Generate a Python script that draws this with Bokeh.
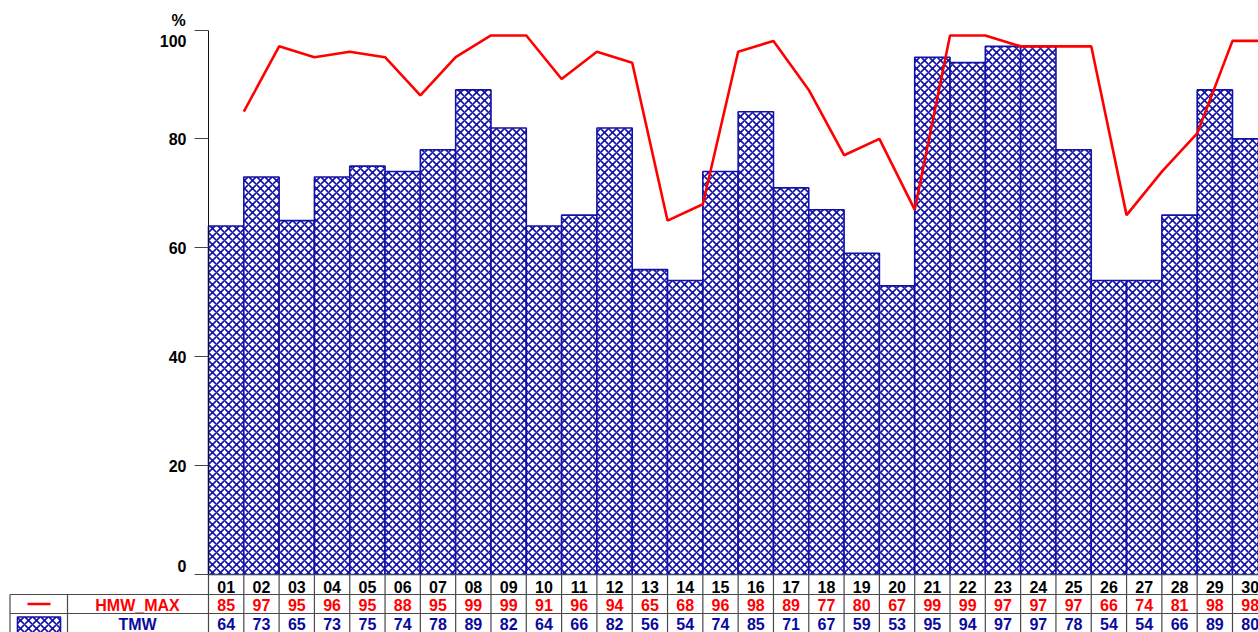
import numpy as np
from bokeh.plotting import figure
from bokeh.models import Range1d, ColumnDataSource, FixedTicker, LinearAxis
from bokeh.embed import file_html
from bokeh.resources import INLINE
from bokeh.core.properties import value
from bokeh.transform import dodge

# ---------------- data ----------------
days = ["01", "02", "03", "04", "05", "06", "07", "08", "09", "10",
        "11", "12", "13", "14", "15", "16", "17", "18", "19", "20",
        "21", "22", "23", "24", "25", "26", "27", "28", "29", "30"]
hmw_max = [85, 97, 95, 96, 95, 88, 95, 99, 99, 91, 96, 94, 65, 68, 96,
           98, 89, 77, 80, 67, 99, 99, 97, 97, 97, 66, 74, 81, 98, 98]
tmw = [64, 73, 65, 73, 75, 74, 78, 89, 82, 64, 66, 82, 56, 54, 74,
       85, 71, 67, 59, 53, 95, 94, 97, 97, 78, 54, 54, 66, 89, 80]
y_ticks = [0, 20, 40, 60, 80, 100]
series_names = ["HMW_MAX", "TMW"]
unit_label = "%"

# ---------------- style / layout ----------------
BLUE = "#1212A6"
TXT_BLUE = "#0A0A9E"
RED = "#FF0000"
GRID = "#4a4a4a"
FONT = value("Liberation Sans")
FS = "16px"
W, H = 1258, 632
X0_PX = 208.0     # page x of the axis / first column's left edge
Y0_PX = 574.0     # page y of value 0
BAR_PX = 35.31    # px per day
UNIT_PX = 5.445   # px per percent


def px2x(px):
    return 0.5 + (px - X0_PX) / BAR_PX


def px2y(py):
    return (Y0_PX - py) / UNIT_PX


x = np.arange(1, len(days) + 1)
src = ColumnDataSource(dict(x=x, day=days, hmw=hmw_max, tmw=tmw))

p = figure(width=W, height=H, x_range=Range1d(px2x(0), px2x(W)),
           y_range=Range1d(px2y(H), px2y(0)), output_backend="svg",
           toolbar_location=None, x_axis_location=None, y_axis_location=None,
           min_border=0)
p.outline_line_color = None
p.grid.visible = False

# y axis at the left edge of the first column
ya = LinearAxis(fixed_location=0.5, bounds=(y_ticks[0], y_ticks[-1]),
                ticker=FixedTicker(ticks=y_ticks))
ya.minor_tick_line_color = None
ya.major_tick_in = 0
ya.major_tick_out = 14
ya.major_tick_line_color = "#444444"
ya.axis_line_color = "#111111"
ya.major_label_standoff = 8
ya.major_label_text_font = "Liberation Sans"
ya.major_label_text_font_style = "bold"
ya.major_label_text_font_size = FS
ya.major_label_text_color = "black"
ya.major_label_overrides = {y_ticks[0]: "", y_ticks[-1]: ""}
p.add_layout(ya, "left")

lab = dict(text_font=FONT, text_font_style="bold", text_font_size=FS,
           text_color="black", text_baseline="middle")
p.text(x=[0.5], y=[y_ticks[0]], text=[str(y_ticks[0])], x_offset=-22, y_offset=-9,
       text_align="right", **lab)
p.text(x=[0.5], y=[y_ticks[-1]], text=[str(y_ticks[-1])], x_offset=-22, y_offset=10.5,
       text_align="right", **lab)
p.text(x=[0.5], y=[y_ticks[-1]], text=[unit_label], x_offset=-30, y_offset=-9.5,
       text_align="center", **lab)

# bars and line
p.vbar(x="x", top="tmw", bottom=0, width=1, source=src, fill_color="white",
       line_color=BLUE, line_width=1.6, hatch_pattern="x", hatch_color=BLUE,
       hatch_scale=8, hatch_weight=1.6)
p.line(x=dodge("x", 0.5), y="hmw", source=src, line_color=RED, line_width=2.6)

# ---------------- data table ----------------
ry0, ry1, ry2, ry3 = px2y(574), px2y(594), px2y(613), px2y(H + 5)
leg_l, leg_m = px2x(9.5), px2x(67)
x_right = px2x(W + 5)
gx0 = [0.5, leg_l, leg_l] + list(x - 0.5) + [x[-1] + 0.5, leg_l, leg_m]
gx1 = [x_right, x_right, x_right] + list(x - 0.5) + [x[-1] + 0.5, leg_l, leg_m]
gy0 = [ry0, ry1, ry2] + [ry0] * (len(days) + 1) + [ry1, ry1]
gy1 = [ry0, ry1, ry2] + [ry3] * (len(days) + 1) + [ry3, ry3]
p.segment(x0=gx0, y0=gy0, x1=gx1, y1=gy1, line_color=GRID, line_width=1.2)

txt = dict(text_font=FONT, text_font_style="bold", text_font_size=FS,
           text_align="center", text_baseline="middle")
yc0, yc1, yc2 = px2y(586.5), px2y(604.5), px2y(623.5)
p.text(x="x", y=yc0, text="day", source=src, text_color="black", **txt)
p.text(x="x", y=yc1, text="hmw", source=src, text_color=RED, **txt)
p.text(x="x", y=yc2, text="tmw", source=src, text_color=TXT_BLUE, **txt)
name_x = px2x(137)
p.text(x=[name_x, name_x], y=[yc1, yc2], text=series_names,
       text_color=[RED, TXT_BLUE], **txt)

# legend swatches
p.segment(x0=[px2x(27)], x1=[px2x(50)], y0=[px2y(603.5)], y1=[px2y(603.5)],
          line_color=RED, line_width=2.5)
p.quad(left=[px2x(17)], right=[px2x(60)], top=[px2y(616.5)], bottom=[px2y(H + 10)],
       fill_color="white", line_color=BLUE, line_width=1.6, hatch_pattern="x",
       hatch_color=BLUE, hatch_scale=8, hatch_weight=1.6)

open("out.html", "w").write(file_html(p, INLINE))
